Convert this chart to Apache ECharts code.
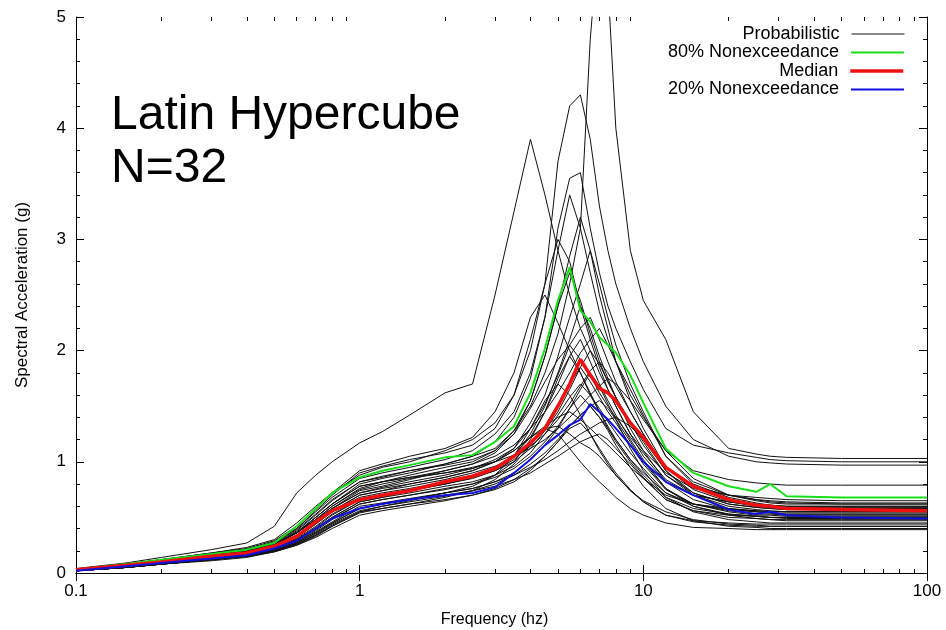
<!DOCTYPE html>
<html><head><meta charset="utf-8">
<script src="https://cdn.jsdelivr.net/npm/echarts@6/dist/echarts.min.js"></script>
<style>html,body{margin:0;padding:0;background:#fff}#c{width:946px;height:630px}</style>
</head><body><div id="c"></div>
<script>
// ---------- data ----------
const freq = [0.1,0.15,0.2,0.3,0.4,0.5,0.6,0.7,0.8,1,1.2,1.5,2,2.5,3,3.5,4,4.5,5,5.5,6,6.5,7,7.5,8,9,10,12,15,20,25,28,32,50,100];
const majorTicksX = [0.1,1,10,100];
const minorTicksX = [0.2,0.3,0.4,0.5,0.6,0.7,0.8,0.9,2,3,4,5,6,7,8,9,20,30,40,50,60,70,80,90];

const nonexceed80 = [0.03,0.08,0.12,0.17,0.21,0.27,0.42,0.58,0.72,0.86,0.92,0.97,1.04,1.06,1.18,1.32,1.62,2.02,2.45,2.75,2.36,2.26,2.12,2.05,1.98,1.78,1.53,1.12,0.90,0.78,0.73,0.80,0.69,0.68,0.68];
const median = [0.03,0.07,0.10,0.15,0.18,0.24,0.33,0.46,0.56,0.66,0.70,0.74,0.82,0.87,0.94,1.05,1.17,1.30,1.50,1.70,1.92,1.78,1.66,1.62,1.55,1.35,1.22,0.95,0.78,0.66,0.61,0.60,0.58,0.57,0.56];
const nonexceed20 = [0.02,0.06,0.09,0.13,0.16,0.22,0.29,0.40,0.49,0.58,0.62,0.66,0.70,0.72,0.77,0.90,1.02,1.15,1.24,1.33,1.38,1.52,1.45,1.38,1.30,1.15,1.00,0.82,0.70,0.57,0.53,0.55,0.52,0.50,0.49];

const run01 = [0.03,0.07,0.11,0.16,0.20,0.26,0.36,0.50,0.62,0.80,0.85,0.90,0.98,1.05,1.12,1.28,1.50,1.80,2.15,2.60,3.10,4.80,5.80,5.30,4.00,2.90,2.45,2.10,1.45,1.12,1.07,1.05,1.04,1.03,1.03];
const run02 = [0.04,0.09,0.14,0.21,0.27,0.42,0.72,0.88,1.00,1.17,1.27,1.42,1.62,1.70,2.50,3.25,3.90,3.40,2.90,2.50,2.20,2.00,1.80,1.65,1.50,1.25,1.10,0.90,0.76,0.70,0.68,0.67,0.66,0.65,0.65];
const run03 = [0.03,0.08,0.12,0.18,0.23,0.30,0.45,0.60,0.72,0.88,0.95,1.00,1.10,1.20,1.35,1.60,2.00,2.60,3.70,4.20,4.30,3.90,3.30,2.90,2.60,2.20,1.90,1.50,1.20,1.05,1.00,0.99,0.98,0.97,0.97];
const run04 = [0.03,0.07,0.11,0.17,0.21,0.28,0.40,0.55,0.68,0.85,0.90,0.95,1.02,1.10,1.25,1.45,1.80,2.30,3.10,3.55,3.60,3.10,2.70,2.40,2.20,1.90,1.65,1.30,1.15,1.08,1.04,1.02,1.01,1.00,1.00];
const run05 = [0.03,0.07,0.11,0.16,0.20,0.26,0.38,0.52,0.65,0.82,0.86,0.92,0.98,1.05,1.18,1.40,1.75,2.30,2.90,3.40,3.10,2.70,2.35,2.10,1.90,1.60,1.40,1.10,0.92,0.84,0.81,0.80,0.79,0.79,0.79];
const run06 = [0.02,0.06,0.10,0.15,0.19,0.25,0.34,0.46,0.58,0.74,0.78,0.84,0.92,0.98,1.08,1.25,1.55,1.95,2.40,2.85,3.20,2.90,2.50,2.20,1.90,1.55,1.30,0.95,0.78,0.70,0.66,0.65,0.64,0.63,0.63];
const run07 = [0.03,0.07,0.12,0.17,0.21,0.27,0.40,0.56,0.70,0.90,0.96,1.02,1.08,1.15,1.30,1.60,2.10,2.60,3.00,2.80,2.40,2.10,1.85,1.65,1.50,1.25,1.05,0.82,0.70,0.64,0.61,0.60,0.59,0.59,0.59];
const run08 = [0.02,0.06,0.10,0.14,0.18,0.24,0.32,0.44,0.55,0.70,0.74,0.80,0.86,0.92,1.00,1.12,1.35,1.60,1.95,2.30,2.60,2.90,2.60,2.30,2.05,1.70,1.45,1.05,0.82,0.70,0.66,0.64,0.63,0.62,0.62];
const run09 = [0.03,0.08,0.12,0.18,0.22,0.29,0.42,0.58,0.72,0.92,0.98,1.05,1.12,1.22,1.45,1.80,2.30,2.50,2.25,2.00,1.80,1.60,1.45,1.32,1.20,1.02,0.90,0.72,0.62,0.58,0.56,0.55,0.55,0.55,0.55];
const run10 = [0.02,0.06,0.10,0.15,0.19,0.25,0.36,0.48,0.60,0.76,0.82,0.88,0.95,1.00,1.10,1.28,1.55,1.95,2.40,2.70,2.45,2.15,1.90,1.72,1.58,1.35,1.15,0.88,0.72,0.62,0.59,0.58,0.57,0.57,0.57];
const run11 = [0.02,0.05,0.09,0.14,0.17,0.22,0.30,0.40,0.50,0.64,0.68,0.74,0.80,0.86,0.94,1.05,1.25,1.50,1.80,2.10,2.40,2.20,1.95,1.75,1.58,1.30,1.10,0.82,0.66,0.57,0.55,0.54,0.53,0.53,0.53];
const run12 = [0.03,0.07,0.11,0.16,0.20,0.26,0.36,0.50,0.62,0.78,0.82,0.86,0.92,0.98,1.05,1.15,1.30,1.45,1.62,1.80,1.98,2.10,2.20,2.05,1.90,1.65,1.42,1.05,0.80,0.68,0.63,0.61,0.60,0.60,0.60];
const run13 = [0.02,0.06,0.09,0.14,0.18,0.23,0.32,0.44,0.55,0.68,0.72,0.76,0.82,0.88,0.95,1.06,1.22,1.45,1.70,1.95,2.10,1.90,1.70,1.55,1.42,1.20,1.02,0.76,0.62,0.55,0.52,0.52,0.51,0.51,0.51];
const run14 = [0.02,0.05,0.09,0.13,0.17,0.22,0.30,0.41,0.52,0.66,0.70,0.75,0.80,0.86,0.92,1.00,1.12,1.28,1.45,1.65,1.85,2.00,1.88,1.72,1.58,1.35,1.18,0.88,0.70,0.60,0.57,0.56,0.55,0.55,0.55];
const run15 = [0.02,0.05,0.08,0.13,0.16,0.21,0.28,0.38,0.48,0.62,0.66,0.70,0.76,0.80,0.88,1.00,1.20,1.45,1.75,1.95,1.80,1.62,1.45,1.30,1.18,1.00,0.86,0.66,0.56,0.50,0.49,0.48,0.48,0.48,0.48];
const run16 = [0.03,0.07,0.10,0.15,0.19,0.24,0.33,0.45,0.56,0.70,0.74,0.78,0.84,0.90,0.96,1.04,1.14,1.25,1.38,1.52,1.68,1.82,1.90,1.80,1.68,1.45,1.25,0.95,0.75,0.64,0.60,0.59,0.58,0.58,0.58];
const run17 = [0.02,0.06,0.09,0.14,0.18,0.23,0.31,0.42,0.53,0.66,0.70,0.74,0.80,0.85,0.92,1.02,1.15,1.32,1.52,1.70,1.85,1.72,1.58,1.45,1.35,1.15,0.98,0.75,0.62,0.56,0.53,0.53,0.52,0.52,0.52];
const run18 = [0.02,0.05,0.08,0.12,0.16,0.20,0.27,0.36,0.45,0.58,0.62,0.66,0.72,0.76,0.82,0.90,1.02,1.15,1.30,1.48,1.65,1.80,1.68,1.52,1.38,1.12,0.92,0.68,0.55,0.48,0.46,0.45,0.45,0.45,0.45];
const run19 = [0.03,0.07,0.11,0.16,0.20,0.26,0.36,0.48,0.60,0.75,0.80,0.85,0.90,0.95,1.00,1.06,1.12,1.20,1.30,1.40,1.50,1.60,1.68,1.75,1.70,1.55,1.38,1.10,0.85,0.70,0.65,0.63,0.62,0.62,0.62];
const run20 = [0.02,0.05,0.08,0.12,0.15,0.20,0.26,0.34,0.42,0.55,0.60,0.65,0.72,0.78,0.88,1.05,1.30,1.55,1.70,1.60,1.42,1.25,1.10,0.98,0.88,0.74,0.65,0.55,0.48,0.44,0.43,0.42,0.42,0.42,0.42];
const run21 = [0.02,0.06,0.09,0.13,0.17,0.22,0.29,0.39,0.49,0.62,0.66,0.70,0.75,0.80,0.86,0.94,1.05,1.18,1.32,1.48,1.60,1.50,1.40,1.30,1.20,1.02,0.88,0.68,0.58,0.53,0.51,0.50,0.50,0.50,0.50];
const run22 = [0.02,0.05,0.08,0.12,0.15,0.20,0.26,0.35,0.44,0.56,0.60,0.64,0.69,0.74,0.80,0.88,0.98,1.08,1.20,1.32,1.42,1.50,1.55,1.48,1.38,1.18,1.00,0.76,0.60,0.52,0.49,0.48,0.47,0.47,0.47];
const run23 = [0.02,0.05,0.08,0.11,0.14,0.19,0.25,0.32,0.40,0.52,0.56,0.60,0.65,0.70,0.76,0.84,0.94,1.05,1.18,1.32,1.42,1.50,1.40,1.28,1.15,0.95,0.78,0.58,0.47,0.42,0.41,0.40,0.40,0.40,0.40];
const run24 = [0.03,0.07,0.11,0.16,0.20,0.26,0.37,0.50,0.62,0.78,0.82,0.86,0.90,0.94,1.00,1.10,1.22,1.32,1.40,1.45,1.38,1.30,1.22,1.15,1.08,0.95,0.85,0.70,0.62,0.57,0.56,0.55,0.55,0.55,0.55];
const run25 = [0.02,0.05,0.08,0.12,0.16,0.21,0.28,0.37,0.46,0.60,0.63,0.67,0.72,0.76,0.82,0.88,0.95,1.02,1.10,1.18,1.25,1.30,1.35,1.38,1.40,1.32,1.20,0.92,0.70,0.58,0.55,0.54,0.53,0.53,0.53];
const run26 = [0.02,0.05,0.08,0.12,0.15,0.20,0.26,0.34,0.43,0.55,0.58,0.62,0.66,0.70,0.75,0.82,0.92,1.05,1.18,1.30,1.35,1.25,1.12,1.00,0.90,0.75,0.64,0.52,0.47,0.45,0.44,0.44,0.44,0.44,0.44];
const run27 = [0.02,0.05,0.08,0.12,0.15,0.19,0.25,0.33,0.42,0.54,0.58,0.62,0.68,0.74,0.84,0.98,1.15,1.30,1.25,1.12,1.00,0.90,0.82,0.75,0.68,0.58,0.52,0.45,0.41,0.40,0.39,0.39,0.39,0.39,0.39];
const run28 = [0.02,0.05,0.08,0.12,0.15,0.20,0.27,0.36,0.45,0.58,0.62,0.66,0.70,0.74,0.78,0.84,0.90,0.98,1.05,1.12,1.18,1.22,1.25,1.20,1.12,0.98,0.85,0.66,0.56,0.52,0.51,0.50,0.50,0.50,0.50];
const run29 = [0.03,0.07,0.11,0.16,0.20,0.26,0.36,0.48,0.58,0.72,0.76,0.80,0.86,0.92,1.00,1.10,1.22,1.30,1.32,1.25,1.17,1.12,1.05,0.96,0.88,0.74,0.64,0.52,0.46,0.43,0.42,0.42,0.42,0.42,0.42];
const run30 = [0.02,0.06,0.10,0.15,0.19,0.24,0.34,0.46,0.58,0.72,0.77,0.82,0.88,0.94,1.02,1.12,1.30,1.52,1.78,2.05,2.20,2.30,2.10,1.90,1.72,1.45,1.25,0.92,0.72,0.62,0.59,0.58,0.57,0.57,0.57];
const run31 = [0.03,0.07,0.11,0.16,0.21,0.27,0.39,0.53,0.66,0.82,0.87,0.92,0.97,1.02,1.10,1.25,1.48,1.72,1.92,2.05,1.92,1.78,1.62,1.50,1.40,1.22,1.08,0.84,0.70,0.64,0.62,0.61,0.60,0.60,0.60];
const run32 = [0.02,0.05,0.09,0.13,0.17,0.22,0.30,0.40,0.50,0.64,0.68,0.72,0.78,0.82,0.88,0.96,1.08,1.25,1.42,1.58,1.70,1.60,1.48,1.36,1.26,1.08,0.94,0.72,0.60,0.53,0.51,0.50,0.49,0.49,0.49];

const probabilisticRuns = [run01,run02,run03,run04,run05,run06,run07,run08,run09,run10,run11,run12,run13,run14,run15,run16,run17,run18,run19,run20,run21,run22,run23,run24,run25,run26,run27,run28,run29,run30,run31,run32];

// ---------- chart ----------
const FONT = '"Liberation Sans", Arial, Helvetica, sans-serif';
const pairs = vals => freq.map((f, i) => [f, vals[i]]);
const black = '#000';
const tickLine = {color: black, width: 1};

function logAxis(gridIndex, position, opts) {
  return Object.assign({
    gridIndex, type: 'log', logBase: 10, min: 0.1, max: 100, position,
    axisLine: {show: true, lineStyle: tickLine},
    axisTick: {show: true, inside: true, length: 8, customValues: majorTicksX, lineStyle: tickLine},
    axisLabel: {show: false},
    splitLine: {show: false},
    minorTick: {show: false},
    minorSplitLine: {show: false}
  }, opts);
}

const series = [];
probabilisticRuns.forEach(run => {
  series.push({
    name: 'Probabilistic', type: 'line', data: pairs(run),
    xAxisIndex: 0, yAxisIndex: 0,
    showSymbol: false, symbol: 'none', silent: true,
    lineStyle: {color: '#111', width: 1}, itemStyle: {color: '#111'},
    emphasis: {disabled: true}
  });
});
const colouredLines = [
  ['80% Nonexceedance', nonexceed80, '#18e018', 2],
  ['Median', median, '#f01010', 3.5],
  ['20% Nonexceedance', nonexceed20, '#1010e0', 2]
];
colouredLines.forEach(([name, vals, color, w]) => {
  series.push({
    name, type: 'line', data: pairs(vals), xAxisIndex: 0, yAxisIndex: 0,
    showSymbol: false, symbol: 'none', silent: true,
    lineStyle: {color, width: w}, itemStyle: {color},
    emphasis: {disabled: true}
  });
});

const legendNames = ['Probabilistic', '80% Nonexceedance', 'Median', '20% Nonexceedance'];
const legendWidths = [1, 2, 3.5, 2];
const legendTops = [25, 43.5, 62, 80.5];
const legends = legendNames.map((n, i) => ({
  data: [n], right: 41, top: legendTops[i], orient: 'horizontal', align: 'right',
  padding: 0, itemWidth: 53, itemHeight: 10, selectedMode: false,
  itemStyle: {color: 'rgba(0,0,0,0)', borderWidth: 0, opacity: 0},
  lineStyle: {width: legendWidths[i]},
  textStyle: {fontSize: 18, color: black, fontFamily: FONT, padding: [0, 7, 0, 0]}
}));

const chart = echarts.init(document.getElementById('c'), null, {renderer: 'canvas'});
chart.setOption({
  animation: false,
  backgroundColor: '#fff',
  textStyle: {fontFamily: FONT},
  title: {
    text: 'Latin Hypercube\nN=32', left: 111, top: 89, padding: 0,
    textStyle: {fontSize: 48, fontWeight: 'normal', lineHeight: 53, color: black, fontFamily: FONT}
  },
  legend: legends,
  grid: [
    {left: 76, right: 19, top: 17, bottom: 57, outerBoundsMode: 'none', containLabel: false},
    {left: 76, right: 19, top: 17, bottom: 57, outerBoundsMode: 'none', containLabel: false}
  ],
  xAxis: [
    logAxis(0, 'bottom', {
      axisLabel: {show: true, customValues: majorTicksX, fontSize: 17, color: black, margin: 10, fontFamily: FONT,
        formatter: v => String(+Number(v).toPrecision(3))},
      name: 'Frequency (hz)', nameLocation: 'middle', nameGap: 39,
      nameTextStyle: {fontSize: 16, color: black, fontFamily: FONT, padding: [0, 14, 0, 0]}
    }),
    logAxis(0, 'top', {}),
    logAxis(1, 'bottom', {axisLine: {show: false}, axisTick: {show: true, inside: true, length: 4, customValues: minorTicksX, lineStyle: tickLine}}),
    logAxis(1, 'top', {axisLine: {show: false}, axisTick: {show: true, inside: true, length: 4, customValues: minorTicksX, lineStyle: tickLine}})
  ],
  yAxis: [
    {gridIndex: 0, type: 'value', min: 0, max: 5, interval: 1, position: 'left',
     axisLine: {show: true, lineStyle: tickLine},
     axisTick: {show: true, inside: true, length: 8, lineStyle: tickLine},
     minorTick: {show: true, splitNumber: 5, length: 4, lineStyle: tickLine},
     axisLabel: {fontSize: 17, color: black, margin: 10, fontFamily: FONT},
     splitLine: {show: false},
     name: 'Spectral Acceleration (g)', nameLocation: 'middle', nameGap: 45,
     nameTextStyle: {fontSize: 17, color: black, fontFamily: FONT}},
    {gridIndex: 0, type: 'value', min: 0, max: 5, interval: 1, position: 'right',
     axisLine: {show: true, lineStyle: tickLine},
     axisTick: {show: true, inside: true, length: 8, lineStyle: tickLine},
     minorTick: {show: true, splitNumber: 5, length: 4, lineStyle: tickLine},
     axisLabel: {show: false}, splitLine: {show: false}},
    {gridIndex: 1, type: 'value', min: 0, max: 5, show: false}
  ],
  series
});
</script></body></html>
